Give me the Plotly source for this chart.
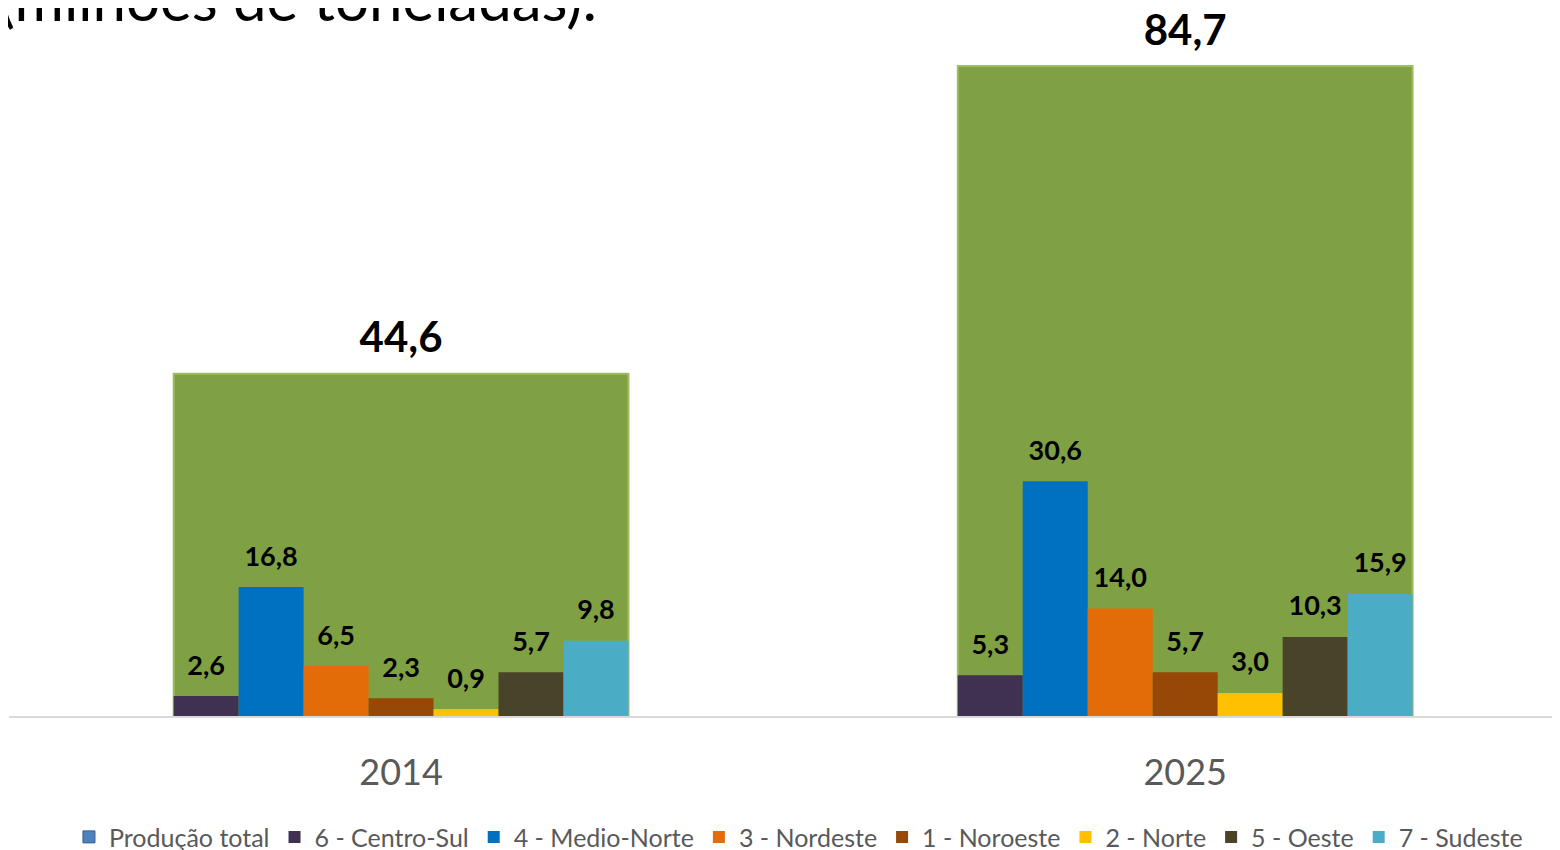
import plotly.graph_objects as go

years = ["2014", "2025"]
total = [44.6, 84.7]
regions = ["6 - Centro-Sul", "4 - Medio-Norte", "3 - Nordeste", "1 - Noroeste",
           "2 - Norte", "5 - Oeste", "7 - Sudeste"]
region_values = [
    [2.6, 5.3],
    [16.8, 30.6],
    [6.5, 14.0],
    [2.3, 5.7],
    [0.9, 3.0],
    [5.7, 10.3],
    [9.8, 15.9],
]
region_colors = ["#403151", "#0070C0", "#E36C09", "#974706", "#FFC000", "#494429", "#4BACC6"]

FONT = "Lato, 'Open Sans', sans-serif"
GAP = 0.42

fig = go.Figure()

# big green bars with total production (own alignment group -> drawn behind the regions)
fig.add_trace(go.Bar(
    x=years, y=total, name="Produção total", showlegend=False,
    marker=dict(color="#80A044", line=dict(color="#9DBE62", width=2)),
    alignmentgroup="total", offsetgroup="total",
))
# legend-only entry (Excel shows a blue swatch)
fig.add_trace(go.Bar(
    x=years, y=[None, None], name="Produção total",
    marker=dict(color="#4F81BD", line=dict(color="#385D8A", width=1)),
    alignmentgroup="total", offsetgroup="total",
))
fig.add_trace(go.Scatter(
    x=years, y=total, mode="markers+text", showlegend=False, hoverinfo="skip",
    texttemplate="%{y:.1f}", textposition="top center", cliponaxis=False,
    textfont=dict(size=42, color="black", family=FONT, weight="bold"),
    marker=dict(size=16, opacity=0), alignmentgroup="total", offsetgroup="total",
))

for name, vals, col in zip(regions, region_values, region_colors):
    fig.add_trace(go.Bar(
        x=years, y=vals, name=name, marker=dict(color=col, line=dict(width=0)),
        alignmentgroup="regions", offsetgroup=name,
    ))
for name, vals in zip(regions, region_values):
    fig.add_trace(go.Scatter(
        x=years, y=vals, mode="markers+text", showlegend=False, hoverinfo="skip",
        texttemplate="%{y:.1f}", textposition="top center", cliponaxis=False,
        textfont=dict(size=27, color="black", family=FONT, weight="bold"),
        marker=dict(size=22, opacity=0), alignmentgroup="regions", offsetgroup=name,
    ))

fig.add_annotation(
    text="(milhões de toneladas):", xref="paper", yref="paper", x=0, y=1,
    xanchor="left", yanchor="middle", xshift=-12, yshift=22, showarrow=False,
    font=dict(size=60, color="black", family=FONT),
)

fig.update_layout(
    width=1552, height=842,
    margin=dict(l=1, r=0, t=12, b=134, autoexpand=False),
    paper_bgcolor="white", plot_bgcolor="white",
    barmode="group", bargap=GAP, scattermode="group", scattergap=GAP,
    separators=",.",
    xaxis=dict(type="category", range=[-0.5, 1.478], showgrid=False, zeroline=False,
               showline=True, linecolor="#D9D9D9", linewidth=2, ticks="",
               ticklabelstandoff=24,
               tickfont=dict(size=36, color="#595959", family=FONT)),
    yaxis=dict(range=[0, 90.7], visible=False, showgrid=False, zeroline=False),
    legend=dict(orientation="h", x=0.509, xanchor="center", y=-0.141, yanchor="top",
                font=dict(size=25, color="#595959", family=FONT),
                itemwidth=30, tracegroupgap=0),
    showlegend=True,
)

fig.write_html("out.html")
